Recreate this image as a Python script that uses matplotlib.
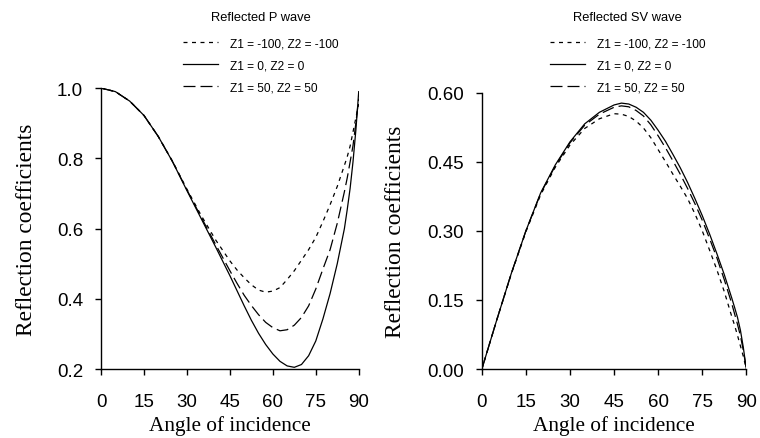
import numpy as np
import matplotlib.pyplot as plt

# angle of incidence (deg)
angles = [0, 5, 10, 15, 20, 25, 30, 35, 40, 45, 47.5, 50, 52.5, 55, 57.5, 60, 62.5,
          65, 67.5, 70, 72.5, 75, 77.5, 80, 82.5, 85, 86, 87, 88, 89, 90]

# reflected P wave
p_m100 = [1.0, 0.99, 0.963, 0.922, 0.862, 0.791, 0.712, 0.637, 0.568, 0.508, 0.482,
          0.46, 0.44, 0.425, 0.419, 0.422, 0.432, 0.455, 0.48, 0.51, 0.54, 0.575,
          0.62, 0.668, 0.72, 0.78, 0.805, 0.835, 0.875, 0.915, 0.955]
p_0 = [1.0, 0.99, 0.963, 0.922, 0.862, 0.79, 0.708, 0.628, 0.548, 0.466, 0.423,
       0.38, 0.339, 0.302, 0.27, 0.243, 0.222, 0.209, 0.205, 0.213, 0.238, 0.28,
       0.343, 0.415, 0.5, 0.6, 0.655, 0.715, 0.79, 0.88, 0.99]
p_50 = [1.0, 0.99, 0.963, 0.922, 0.862, 0.79, 0.71, 0.632, 0.555, 0.48, 0.444,
        0.41, 0.381, 0.355, 0.333, 0.318, 0.309, 0.312, 0.325, 0.347, 0.38, 0.428,
        0.485, 0.54, 0.615, 0.705, 0.745, 0.79, 0.836, 0.9, 0.97]

# reflected SV wave
sv_m100 = [0.0, 0.105, 0.206, 0.298, 0.378, 0.438, 0.486, 0.522, 0.543, 0.554, 0.553,
           0.548, 0.538, 0.523, 0.502, 0.476, 0.45, 0.423, 0.397, 0.37, 0.337, 0.30,
           0.258, 0.215, 0.168, 0.115, 0.095, 0.073, 0.05, 0.027, 0.0]
sv_0 = [0.0, 0.105, 0.207, 0.30, 0.382, 0.443, 0.493, 0.532, 0.557, 0.573, 0.577,
        0.575, 0.568, 0.557, 0.54, 0.518, 0.494, 0.466, 0.437, 0.405, 0.37, 0.333,
        0.293, 0.25, 0.205, 0.155, 0.134, 0.112, 0.084, 0.046, 0.0]
sv_50 = [0.0, 0.105, 0.207, 0.30, 0.381, 0.441, 0.491, 0.529, 0.553, 0.568, 0.571,
         0.569, 0.561, 0.549, 0.53, 0.506, 0.48, 0.452, 0.423, 0.392, 0.359, 0.323,
         0.283, 0.241, 0.194, 0.143, 0.12, 0.097, 0.072, 0.04, 0.0]

labels = ["Z1 = -100, Z2 = -100", "Z1 = 0, Z2 = 0", "Z1 = 50, Z2 = 50"]
xticks = [0, 15, 30, 45, 60, 75, 90]

sans = "Liberation Sans"
serif = "Liberation Serif"

fig = plt.figure(figsize=(7.6, 4.39), dpi=100)
ax1 = fig.add_axes([0.133, 0.157, 0.339, 0.640])
ax2 = fig.add_axes([0.634, 0.157, 0.348, 0.630])

short = (0, (3.2, 3.6))
long_ = (0, (9.6, 4.0))


def style(ax, yticks, fmt, ylpad):
    for s in ["top", "right"]:
        ax.spines[s].set_visible(False)
    for s in ["left", "bottom"]:
        ax.spines[s].set_linewidth(1.0)
    ax.set_xlim(0, 90)
    ax.set_xticks(xticks)
    ax.set_yticks(yticks)
    ax.set_yticklabels([fmt.format(v) for v in yticks])
    ax.tick_params(axis="x", direction="out", length=4, width=1, pad=13,
                   labelsize=13.5)
    ax.tick_params(axis="y", direction="out", length=4, width=1, pad=9,
                   labelsize=13.5)
    for t in ax.get_xticklabels() + ax.get_yticklabels():
        t.set_fontfamily(sans)
    ax.set_xlabel("Angle of incidence", fontfamily=serif, fontsize=15.3,
                  labelpad=4)
    ax.set_ylabel("Reflection coefficients", fontfamily=serif, fontsize=16.8,
                  labelpad=ylpad)


ax1.plot(angles, p_m100, color="black", lw=0.9, ls=short, label=labels[0])
ax1.plot(angles, p_0, color="black", lw=0.9, ls="-", label=labels[1])
ax1.plot(angles, p_50, color="black", lw=0.9, ls=long_, label=labels[2])
ax1.set_ylim(0.2, 1.0)
style(ax1, [0.2, 0.4, 0.6, 0.8, 1.0], "{:.1f}", 14)

ax2.plot(angles, sv_m100, color="black", lw=0.9, ls=short, label=labels[0])
ax2.plot(angles, sv_0, color="black", lw=0.9, ls="-", label=labels[1])
ax2.plot(angles, sv_50, color="black", lw=0.9, ls=long_, label=labels[2])
ax2.set_ylim(0.0, 0.6)
style(ax2, [0.0, 0.15, 0.30, 0.45, 0.60], "{:.2f}", 15)

for ax, title, x0 in [(ax1, "Reflected P wave", 183 / 760),
                      (ax2, "Reflected SV wave", 550 / 760)]:
    leg = ax.legend(loc="upper left", bbox_to_anchor=(x0, 0.972),
                    bbox_transform=fig.transFigure, frameon=False,
                    title=title, prop={"family": sans, "size": 8.6},
                    handlelength=2.9, handletextpad=1.0, labelspacing=0.85,
                    borderaxespad=0, borderpad=0)
    leg.get_title().set_fontfamily(sans)
    leg.get_title().set_fontsize(9.3)
    leg._legend_box.sep = 10

fig.savefig("out.png", dpi=100)
